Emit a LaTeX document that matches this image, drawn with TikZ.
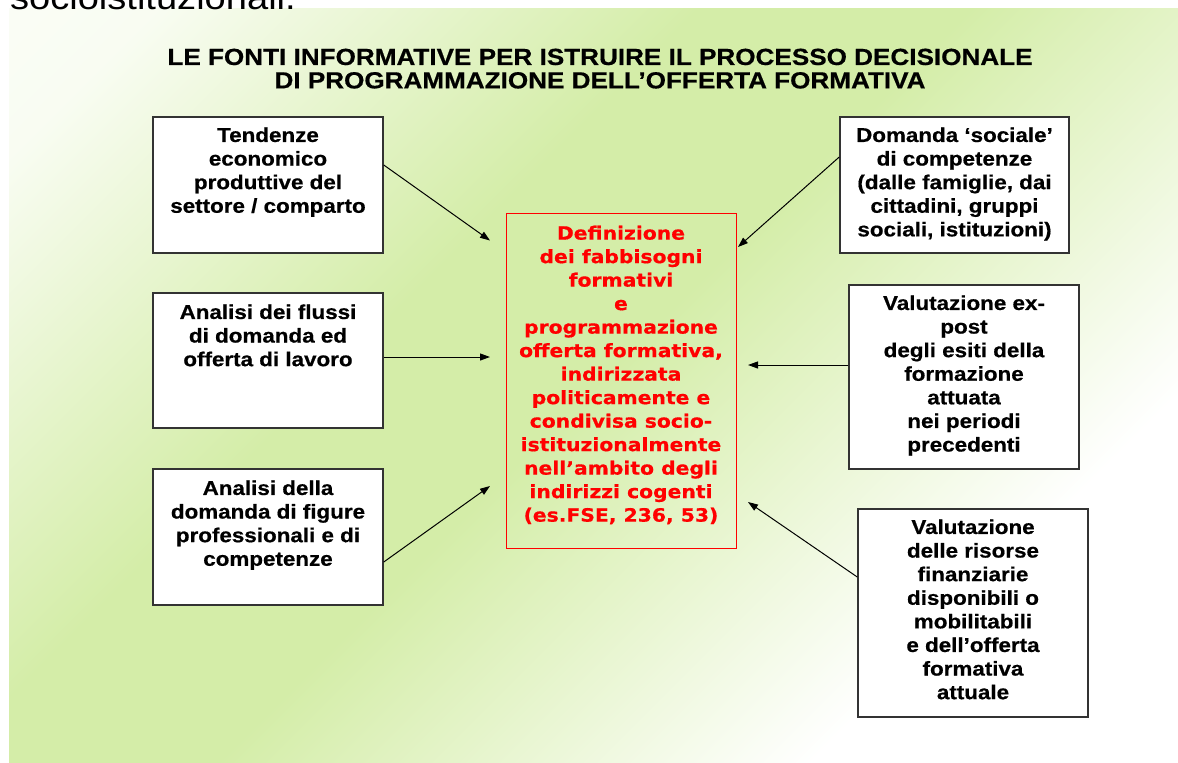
\documentclass[tikz,border=0pt]{standalone}
\usepackage{fontspec}
\usepackage{tikz}
\usetikzlibrary{positioning,arrows.meta}

\newfontfamily\boxfont[FakeStretch=1.12, BoldFeatures={FakeBold=0.6}]{Liberation Sans}
\newfontfamily\redfont[FakeStretch=1.11, BoldFeatures={FakeBold=0.6}]{DejaVu Sans}

\definecolor{slidegreen}{RGB}{212,237,168}

\pgfdeclarehorizontalshading{slideshade}{100bp}{
  color(0bp)=(white);
  color(20bp)=(white!85!slidegreen);
  color(40bp)=(slidegreen);
  color(50bp)=(slidegreen);
  color(72bp)=(white);
  color(100bp)=(white)}

\tikzset{
  srcbox/.style={draw=black!80, line width=1.5pt, fill=white, inner sep=0pt, minimum width=230pt},
  srctext/.style={font=\boxfont\bfseries\fontsize{20}{23.6}\selectfont, align=center, inner sep=0pt},
  goalbox/.style={draw=red, line width=1pt, inner sep=0pt, minimum width=230pt, minimum height=335pt},
  goaltext/.style={font=\redfont\bfseries\fontsize{18.3}{23.5}\selectfont, text=red, align=center, inner sep=0pt},
  feed/.style={line width=1pt, -{Triangle[length=10pt,width=7pt]}}
}

\begin{document}
\begin{tikzpicture}[x=1pt,y=-1pt]
\useasboundingbox (0,0) rectangle (1178,763);
\clip (0,0) rectangle (1178,763);

%% Slide background
\shade[shading=slideshade, shading angle=-45] (9,8) rectangle (1178,763);

% cut off line from above
\node[font=\boxfont\fontsize{34}{40}\selectfont, anchor=base east, inner sep=0pt] (cutline) at (296,9.5) {socioistituzionali.};

% TITLE
\node[font=\boxfont\bfseries\fontsize{23.3}{23.4}\selectfont, align=center, inner sep=0pt, anchor=north] (title) at (600,48.5)
  {LE FONTI INFORMATIVE PER ISTRUIRE IL PROCESSO DECISIONALE\\
   DI PROGRAMMAZIONE DELL’OFFERTA FORMATIVA};

% LEFT SOURCES
\node[srcbox, minimum height=136pt] (tend) at (268,185) {};
\node[srctext, below=11pt of tend.north] (tendtxt) {Tendenze\\economico\\produttive del\\settore / comparto};

\node[srcbox, minimum height=135pt] (flussi) at (268,360.5) {};
\node[srctext, below=12pt of flussi.north] (flussitxt) {Analisi dei flussi\\di domanda ed\\offerta di lavoro};

\node[srcbox, minimum height=136pt] (figure) at (268,537) {};
\node[srctext, below=12pt of figure.north] (figuretxt) {Analisi della\\domanda di figure\\professionali e di\\competenze};

% CENTRE
\node[goalbox] (fabb) at (621,380.5) {};
\node[goaltext, below=13pt of fabb.north] (fabbtxt) {Definizione\\dei fabbisogni\\formativi\\e\\programmazione\\offerta formativa,\\indirizzata\\politicamente e\\condivisa socio-\\istituzionalmente\\nell’ambito degli\\indirizzi cogenti\\(es.FSE, 236, 53)};

% RIGHT SOURCES
\node[srcbox, minimum width=229pt, minimum height=136pt] (sociale) at (954.5,185) {};
\node[srctext, below=11pt of sociale.north] (socialetxt) {Domanda ‘sociale’\\di competenze\\(dalle famiglie, dai\\cittadini, gruppi\\sociali, istituzioni)};

\node[srcbox, minimum height=184pt] (expost) at (964,377) {};
\node[srctext, below=11pt of expost.north] (exposttxt) {Valutazione ex-\\post\\degli esiti della\\formazione\\attuata\\nei periodi\\precedenti};

\node[srcbox, minimum height=208pt] (risorse) at (973,613) {};
\node[srctext, below=11pt of risorse.north] (risorsetxt) {Valutazione\\delle risorse\\finanziarie\\disponibili o\\mobilitabili\\e dell’offerta\\formativa\\attuale};

% ARROWS
\coordinate (tendtip) at (490,240.5);
\coordinate (flussitip) at (490,357);
\coordinate (figuretip) at (490,486);
\coordinate (socialetip) at (738,247);
\coordinate (exposttip) at (748,365);
\coordinate (risorsetip) at (748,502);

\draw[feed] ([yshift=20pt]tend.east) -- (tendtip);
\draw[feed] ([yshift=3.5pt]flussi.east) -- (flussitip);
\draw[feed] ([yshift=-25pt]figure.east) -- (figuretip);
\draw[feed] ([yshift=28pt]sociale.west) -- (socialetip);
\draw[feed] ([yshift=12pt]expost.west) -- (exposttip);
\draw[feed] ([yshift=36pt]risorse.west) -- (risorsetip);
\end{tikzpicture}
\end{document}
